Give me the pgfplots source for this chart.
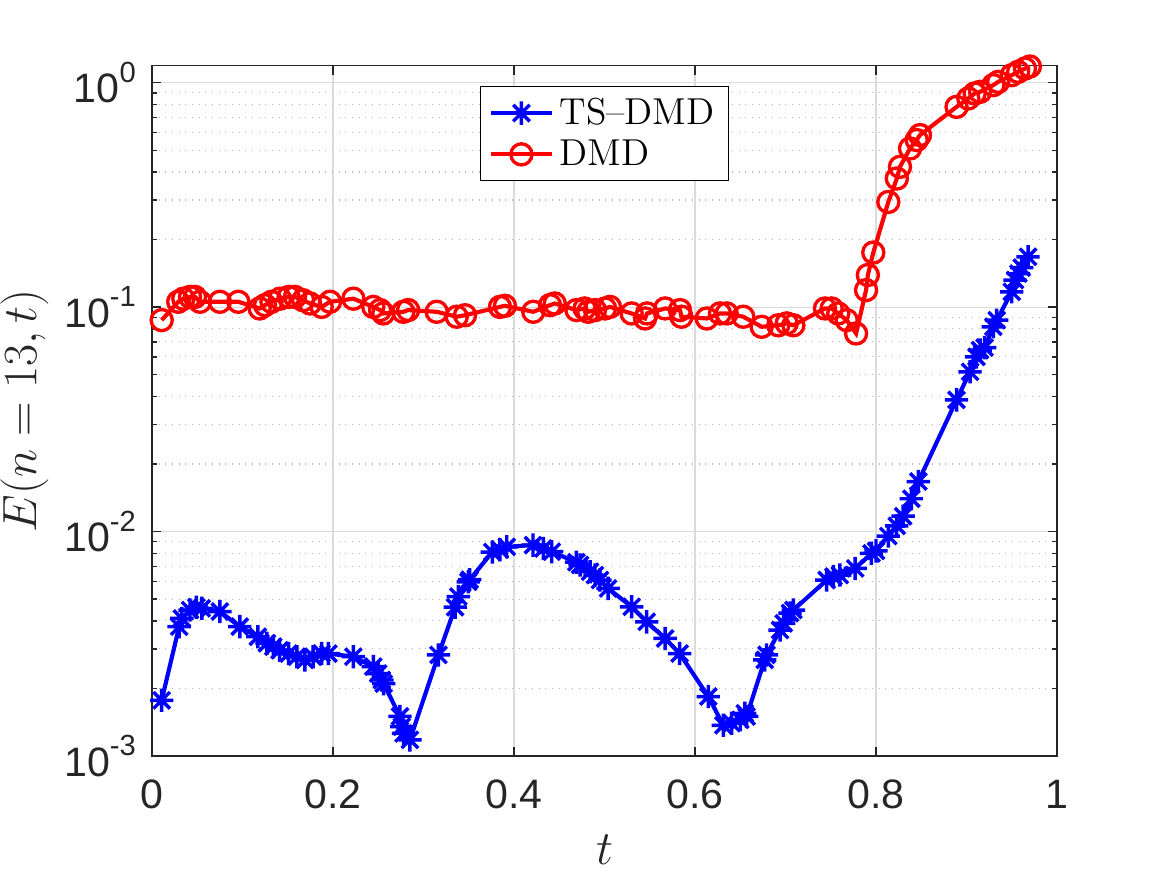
\documentclass[border=0pt]{standalone}
\usepackage{pgfplots}
\pgfplotsset{compat=1.18}
\usepackage{fontspec}
\newfontfamily\hv{Liberation Sans}
\definecolor{axc}{HTML}{262626}
\definecolor{mblue}{RGB}{0,0,255}
\definecolor{mred}{RGB}{255,0,0}
\pgfdeclareplotmark{mstar}{%
 \pgfpathmoveto{\pgfqpoint{0pt}{\pgfplotmarksize}}\pgfpathlineto{\pgfqpoint{0pt}{-\pgfplotmarksize}}%
 \pgfpathmoveto{\pgfqpoint{\pgfplotmarksize}{0pt}}\pgfpathlineto{\pgfqpoint{-\pgfplotmarksize}{0pt}}%
 \pgfpathmoveto{\pgfqpoint{.7071\pgfplotmarksize}{.7071\pgfplotmarksize}}\pgfpathlineto{\pgfqpoint{-.7071\pgfplotmarksize}{-.7071\pgfplotmarksize}}%
 \pgfpathmoveto{\pgfqpoint{-.7071\pgfplotmarksize}{.7071\pgfplotmarksize}}\pgfpathlineto{\pgfqpoint{.7071\pgfplotmarksize}{-.7071\pgfplotmarksize}}%
 \pgfusepathqstroke}
\newcommand\ex[1]{10\raisebox{7.4pt}{\fontsize{10.5}{12}\selectfont #1}}

\pgfplotstableread{
x y
0.0107 1.77e-3
0.030 3.77e-3
0.033 4.1e-3
0.042 4.47e-3
0.049 4.6e-3
0.055 4.55e-3
0.075 4.4e-3
0.097 3.77e-3
0.117 3.4e-3
0.127 3.18e-3
0.134 3.07e-3
0.141 2.96e-3
0.151 2.86e-3
0.160 2.77e-3
0.169 2.68e-3
0.178 2.77e-3
0.1875 2.86e-3
0.195 2.86e-3
0.2225 2.77e-3
0.2445 2.5e-3
0.250 2.33e-3
0.254 2.18e-3
0.256 2.1e-3
0.274 1.5e-3
0.276 1.35e-3
0.278 1.26e-3
0.285 1.18e-3
0.3165 2.82e-3
0.335 4.6e-3
0.3385 5.13e-3
0.3495 5.97e-3
0.351 6.1e-3
0.376 8.1e-3
0.3845 8.3e-3
0.392 8.55e-3
0.421 8.7e-3
0.4324 8.4e-3
0.4417 8.13e-3
0.469 7.3e-3
0.473 7.1e-3
0.484 6.62e-3
0.4895 6.4e-3
0.495 6.08e-3
0.504 5.58e-3
0.530 4.62e-3
0.5466 3.96e-3
0.567 3.34e-3
0.583 2.86e-3
0.6147 1.84e-3
0.6313 1.37e-3
0.6405 1.40e-3
0.650 1.45e-3
0.655 1.55e-3
0.657 1.5e-3
0.677 2.68e-3
0.679 2.82e-3
0.694 3.64e-3
0.698 3.9e-3
0.705 4.33e-3
0.7087 4.47e-3
0.7455 6.08e-3
0.753 6.3e-3
0.760 6.4e-3
0.777 6.85e-3
0.795 8.0e-3
0.800 8.2e-3
0.8136 9.55e-3
0.8229 1.06e-2
0.830 1.17e-2
0.839 1.40e-2
0.8468 1.67e-2
0.889 3.86e-2
0.9039 5.15e-2
0.911 6.0e-2
0.915 6.43e-2
0.920 6.6e-2
0.9296 8.17e-2
0.9334 8.74e-2
0.950 0.117
0.9536 0.132
0.9573 0.141
0.961 0.150
0.968 0.1676
}\tsdmd

\pgfplotstableread{
x y
0.0107 0.0875
0.029 0.1056
0.0346 0.109
0.042 0.111
0.0475 0.111
0.053 0.1056
0.075 0.1056
0.0954 0.1056
0.119 0.0986
0.1249 0.102
0.132 0.1056
0.1414 0.109
0.151 0.111
0.158 0.111
0.167 0.1073
0.1746 0.1038
0.1875 0.1002
0.1967 0.1056
0.2225 0.109
0.2445 0.1002
0.252 0.097
0.2556 0.0937
0.2777 0.0953
0.283 0.097
0.3146 0.0953
0.3367 0.0906
0.3459 0.092
0.3845 0.1002
0.39 0.1013
0.4213 0.0953
0.4398 0.102
0.445 0.1038
0.469 0.097
0.478 0.0986
0.482 0.0953
0.4895 0.097
0.5006 0.0986
0.506 0.1002
0.530 0.0937
0.5448 0.089
0.547 0.0937
0.567 0.0986
0.5834 0.097
0.585 0.0906
0.613 0.089
0.6276 0.0937
0.635 0.0937
0.6533 0.0906
0.6737 0.0817
0.692 0.083
0.7013 0.0846
0.7087 0.083
0.7436 0.0986
0.751 0.0986
0.7583 0.0937
0.7676 0.0875
0.778 0.0763
0.789 0.119
0.791 0.139
0.797 0.175
0.8136 0.294
0.823 0.374
0.8265 0.4217
0.8376 0.509
0.845 0.555
0.8486 0.584
0.889 0.78
0.902 0.85
0.909 0.895
0.915 0.91
0.9296 0.975
0.935 1.008
0.950 1.08
0.957 1.117
0.9646 1.156
0.970 1.18
}\dmd

\begin{document}
\begin{tikzpicture}
\begin{axis}[
  scale only axis, width=325.8pt, height=248.5pt,
  xmin=0, xmax=1, ymode=log, ymin=1e-3, ymax=1.19,
  xtick={0,0.2,0.4,0.6,0.8,1}, xticklabels={0,0.2,0.4,0.6,0.8,1},
  ytick={1e-3,1e-2,1e-1,1}, yticklabels={\ex{-3},\ex{-2},\ex{-1},\ex{0}},
  minor ytick={2e-3,3e-3,4e-3,5e-3,6e-3,7e-3,8e-3,9e-3,2e-2,3e-2,4e-2,5e-2,6e-2,7e-2,8e-2,9e-2,2e-1,3e-1,4e-1,5e-1,6e-1,7e-1,8e-1,9e-1},
  xmajorgrids, ymajorgrids, yminorgrids,
  major grid style={color=gray!28, line width=0.4pt},
  minor grid style={color=gray!55, dotted, line width=0.4pt},
  tick align=inside, major tick length=3.4pt, minor tick length=1.7pt,
  axis line style={color=axc, line width=0.5pt},
  every tick/.style={color=axc, line width=0.5pt},
  xticklabel style={font=\hv\fontsize{14.8}{17}\selectfont, color=axc, inner sep=0pt, yshift=-8.4pt},
  yticklabel style={font=\hv\fontsize{14.8}{17}\selectfont, color=axc, inner sep=0pt, xshift=-5.6pt},
  label style={font=\fontsize{16}{19}\selectfont, color=axc},
  xlabel={$t$}, ylabel={$E(n=13,t)$},
  xlabel style={at={(axis description cs:0.5,-0.114)}, anchor=north, inner sep=0pt},
  ylabel style={at={(axis description cs:-0.1138,0.5)}, anchor=south, inner sep=0pt},
  legend style={at={(axis description cs:0.5,0.9706)}, anchor=north, draw=black, line width=0.5pt,
     font=\fontsize{13.5}{17}\selectfont, fill=white},
  legend cell align=left,
  legend image code/.code={\draw[mark repeat=2,mark phase=2,#1] plot coordinates {(0pt,0pt) (11pt,0pt) (22pt,0pt)};},
]
\addplot[color=mblue, line width=1.5pt, mark=mstar, mark size=4.2pt, mark options={solid, line width=1.25pt}] table[x=x,y=y] {\tsdmd};
\addlegendentry{TS--DMD}
\addplot[color=mred, line width=1.5pt, mark=o, mark size=3.8pt, mark options={solid, line width=1.2pt}] table[x=x,y=y] {\dmd};
\addlegendentry{DMD}
\end{axis}
\path (current axis.south west) ++(-54.72pt,-42.84pt) coordinate (bbA);
\path (current axis.north east) ++(39.6pt,23.65pt) coordinate (bbB);
\path (bbA) rectangle (bbB);
\end{tikzpicture}
\end{document}
